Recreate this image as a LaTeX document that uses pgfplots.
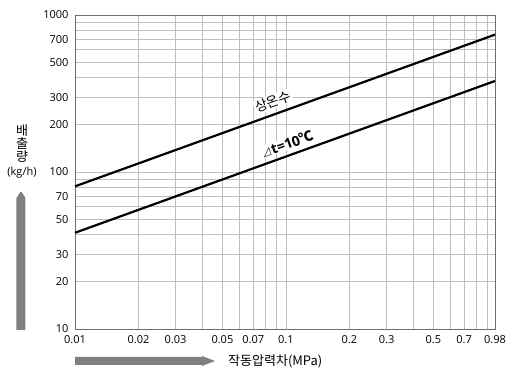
\documentclass[border=0pt]{standalone}
\usepackage{fontspec}
\setmainfont{Open Sans}
\newfontfamily\kr{Noto Sans CJK KR}
\usepackage{pgfplots}
\pgfplotsset{compat=1.18}
\definecolor{gridc}{RGB}{190,190,190}
\definecolor{framec}{RGB}{110,110,110}
\definecolor{arrowc}{RGB}{128,128,128}
\begin{document}
\begin{tikzpicture}[x=1pt,y=1pt]
\path[use as bounding box] (-75,-45) rectangle (447,329);
\begin{axis}[
 at={(0,0)}, anchor=south west,
 scale only axis, width=420pt, height=314pt,
 xmode=log, ymode=log,
 xmin=0.01, xmax=0.98, ymin=10, ymax=1000,
 xtick={0.01,0.02,0.03,0.05,0.07,0.1,0.2,0.3,0.5,0.7,0.98},
 xticklabels={0.01,0.02,0.03,0.05,0.07,0.1,0.2,0.3,0.5,0.7,0.98},
 minor xtick={0.04,0.06,0.08,0.09,0.4,0.6,0.8,0.9},
 ytick={10,20,30,50,70,100,200,300,500,700,1000},
 yticklabels={10,20,30,50,70,100,200,300,500,700,1000},
 minor ytick={40,60,80,90,400,600,800,900},
 grid=both,
 major grid style={gridc, line width=0.8pt},
 minor grid style={gridc, line width=0.8pt},
 axis line style={framec, line width=0.9pt},
 major tick length=0pt, minor tick length=0pt,
 tick label style={font=\fontsize{11}{12}\selectfont, text=black},
 xticklabel style={yshift=-3pt},
 yticklabel style={xshift=-3pt},
 /pgf/number format/assume math mode=true,
 clip=false,
]
\addplot[black, line width=2.2pt] coordinates {(0.01,81) (0.98,750)};
\addplot[black, line width=2.2pt] coordinates {(0.01,41) (0.98,380)};
\node[rotate=19.9, fill=white, inner sep=1pt, font=\fontsize{13.5}{14}\selectfont\kr] at (axis cs:0.0868,281) {상온수};
\node[rotate=19.9, fill=white, inner sep=0.5pt, font=\fontsize{14}{15}\selectfont] at (axis cs:0.1011,151) {{\kr\fontsize{11}{12}\selectfont\color{darkgray}⊿}\textbf{t=10}{\kr\bfseries ℃}};
\end{axis}
\begin{scope}[every node/.style={inner sep=0pt}]
\node[font=\fontsize{13}{14}\selectfont\kr] at (-53,198) {배};
\node[font=\fontsize{13}{14}\selectfont\kr] at (-53,185.5) {출};
\node[font=\fontsize{13}{14}\selectfont\kr] at (-53,172.5) {량};
\node[font=\fontsize{11}{12}\selectfont] at (-53,156.3) {(kg/h)};
\end{scope}
\fill[arrowc] (-58.5,-1) -- (-58.5,131) [rounded corners=1pt]-- (-54,138) -- (-49.5,131) [sharp corners]-- (-49.5,-1) -- cycle;
\fill[arrowc] (0,-28) -- (127,-28) -- (127,-27) -- (140,-32) -- (127,-37) -- (127,-36) -- (0,-36) -- cycle;
\node[anchor=west, inner sep=0pt, font=\fontsize{13}{14}\selectfont\kr] at (153,-32) {작동압력차(MPa)};
\end{tikzpicture}
\end{document}
